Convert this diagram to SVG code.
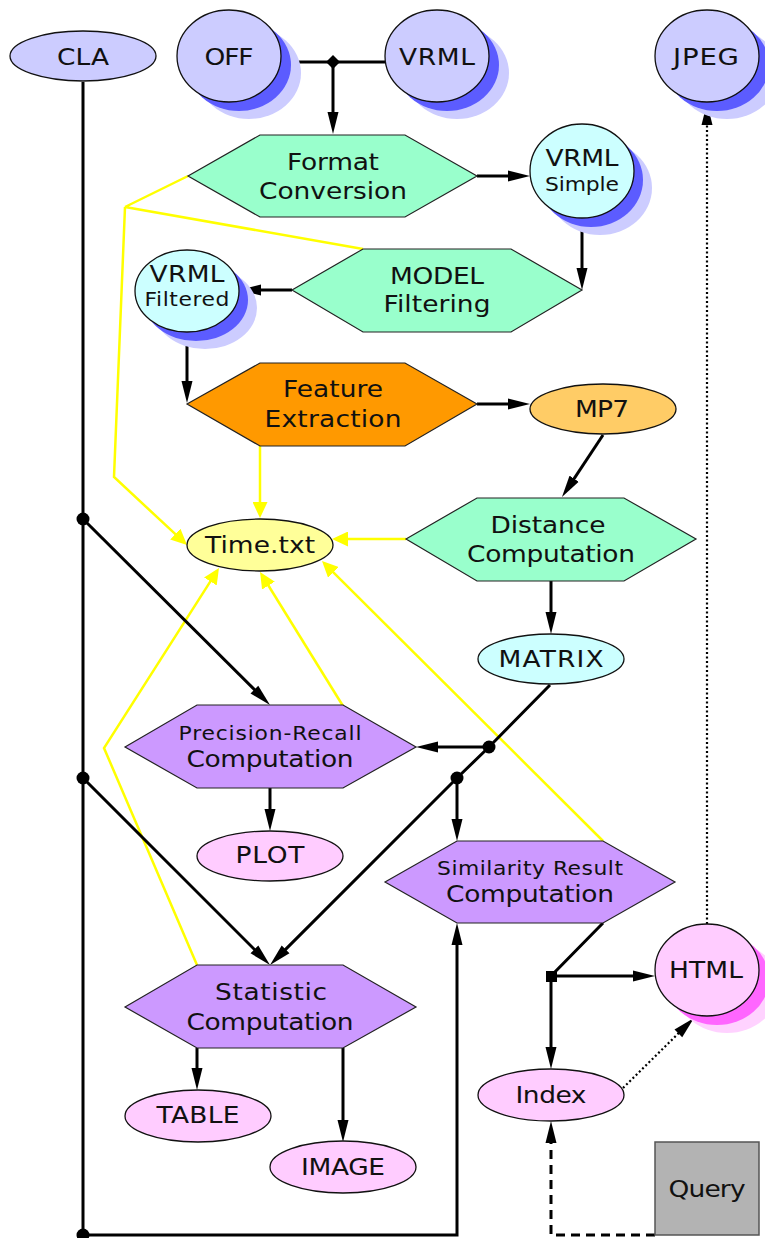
<svg xmlns="http://www.w3.org/2000/svg" width="765" height="1238" viewBox="0 0 765 1238">
<style>
text{font-family:"DejaVu Sans","Liberation Sans",sans-serif;fill:#111;text-anchor:middle}
.t{font-size:23px}
.s{font-size:19px}
.nd{stroke:#111;stroke-width:1.3}
.hex{stroke:#222;stroke-width:1.2}
.e{fill:none;stroke:#000;stroke-width:3}
.y{fill:none;stroke:#ffff00;stroke-width:2.5}
.dot{fill:none;stroke:#000;stroke-width:2.2;stroke-dasharray:2 2.5}
.dash{fill:none;stroke:#000;stroke-width:3;stroke-dasharray:9 6}
.bs1{fill:#ccccff}.bs2{fill:#5c5cff}
.ps1{fill:#ffd2ff}.ps2{fill:#ff66ff}
.green{fill:#99ffcc}.purple{fill:#cc99ff}
</style>
<defs>
<marker id="ab" markerUnits="userSpaceOnUse" markerWidth="22" markerHeight="12" refX="12" refY="6" orient="auto"><path d="M0,0.5 L22,6 L0,11.5 z" fill="#000"/></marker>
<marker id="ay" markerUnits="userSpaceOnUse" markerWidth="16" markerHeight="15" refX="6" refY="7.5" orient="auto"><path d="M0,0 L16,7.5 L0,15 z" fill="#ffff00"/></marker>
</defs>
<rect width="765" height="1238" fill="#fff"/>
<g id="connectors">
<path class="y" d="M188,176 L125,207 M363,249 L125,207"/>
<path class="y" d="M125,207 L114,477 L179.7,538.2" marker-end="url(#ay)"/>
<path class="y" d="M260,446 L260,508" marker-end="url(#ay)"/>
<path class="y" d="M406,539 L342,539" marker-end="url(#ay)"/>
<path class="y" d="M343,706 L265.3,580.5" marker-end="url(#ay)"/>
<path class="y" d="M197,965 L104,748 L213.6,576.4" marker-end="url(#ay)"/>
<path class="y" d="M603,841 L329.1,568.1" marker-end="url(#ay)"/>
<path class="e" d="M281,62 L385,62"/>
<path class="e" d="M333,62 L333,124" marker-end="url(#ab)"/>
<path class="e" d="M477,176 L520,176" marker-end="url(#ab)"/>
<path class="e" d="M582,218 L582,280" marker-end="url(#ab)"/>
<path class="e" d="M292,290 L249,290" marker-end="url(#ab)"/>
<path class="e" d="M187,332 L187,393" marker-end="url(#ab)"/>
<path class="e" d="M477,404 L520,404" marker-end="url(#ab)"/>
<path class="e" d="M603,435 L567.5,488.7" marker-end="url(#ab)"/>
<path class="e" d="M551,581 L551,624" marker-end="url(#ab)"/>
<path class="e" d="M83,82 L83,1235 L457,1235 L457,933" marker-end="url(#ab)"/>
<path class="e" d="M83,519 L262.9,698" marker-end="url(#ab)"/>
<path class="e" d="M83,778 L262.9,957.9" marker-end="url(#ab)"/>
<path class="e" d="M550,685 L489,747 L457,778 L277.1,957.9" marker-end="url(#ab)"/>
<path class="e" d="M489,747 L426,747" marker-end="url(#ab)"/>
<path class="e" d="M457,778 L457,831" marker-end="url(#ab)"/>
<path class="e" d="M270,788 L270,821" marker-end="url(#ab)"/>
<path class="e" d="M197,1048 L197,1080" marker-end="url(#ab)"/>
<path class="e" d="M343,1048 L343,1132" marker-end="url(#ab)"/>
<path class="e" d="M603,923 L551,976 L645,976" marker-end="url(#ab)"/>
<path class="e" d="M551,976 L551,1059" marker-end="url(#ab)"/>
<path class="dot" d="M707,924 L707,113" marker-end="url(#ab)"/>
<path class="dot" d="M623,1088 L686.9,1025" marker-end="url(#ab)"/>
<path class="dash" d="M655,1235 L551,1235 L551,1131" marker-end="url(#ab)"/>
<path d="M333,55 L340,62 L333,69 L326,62 z" fill="#000"/>
<circle cx="83" cy="519" r="6.5" fill="#000"/>
<circle cx="83" cy="778" r="6.5" fill="#000"/>
<circle cx="83" cy="1235" r="6.5" fill="#000"/>
<circle cx="489" cy="747" r="6.5" fill="#000"/>
<circle cx="457" cy="778" r="6.5" fill="#000"/>
<rect x="546" y="971" width="11" height="11" fill="#000"/>
</g>
<g id="CLA"><ellipse class="nd" cx="83" cy="56" rx="73" ry="25" fill="#ccccff"/><text class="t" transform="translate(83,65) scale(1.15,1)" textLength="45.2" lengthAdjust="spacing">CLA</text></g>
<g id="OFF"><ellipse class="bs1" cx="249" cy="73" rx="52" ry="46"/><ellipse class="bs2" cx="239" cy="65" rx="52" ry="46"/><ellipse class="nd" cx="229" cy="56" rx="52" ry="46" fill="#ccccff"/><text class="t" transform="translate(229,65) scale(1.15,1)" textLength="42.6" lengthAdjust="spacing">OFF</text></g>
<g id="VRML"><ellipse class="bs1" cx="457" cy="73" rx="52" ry="46"/><ellipse class="bs2" cx="447" cy="65" rx="52" ry="46"/><ellipse class="nd" cx="437" cy="56" rx="52" ry="46" fill="#ccccff"/><text class="t" transform="translate(437,65) scale(1.15,1)" textLength="66.1" lengthAdjust="spacing">VRML</text></g>
<g id="JPEG"><ellipse class="bs1" cx="727" cy="73" rx="52" ry="46"/><ellipse class="bs2" cx="717" cy="65" rx="52" ry="46"/><ellipse class="nd" cx="707" cy="56" rx="52" ry="46" fill="#ccccff"/><text class="t" transform="translate(706,65) scale(1.2,1)" textLength="55" lengthAdjust="spacing">JPEG</text></g>
<g id="FormatConversion"><polygon class="hex green" points="188,176 260,135 405,135 477,176 405,217 260,217"/><text class="t" transform="translate(333,170) scale(1.15,1)" textLength="80" lengthAdjust="spacing">Format</text><text class="t" transform="translate(333,199) scale(1.15,1)" textLength="128.7" lengthAdjust="spacing">Conversion</text></g>
<g id="VRMLSimple"><ellipse class="bs1" cx="600" cy="188" rx="52" ry="47"/><ellipse class="bs2" cx="591" cy="180" rx="52" ry="47"/><ellipse class="nd" cx="582" cy="171" rx="52" ry="47" fill="#ccffff"/><text class="t" transform="translate(582,166) scale(1.15,1)" textLength="63.5" lengthAdjust="spacing">VRML</text><text class="s" transform="translate(582,191) scale(1.15,1)" textLength="64.3" lengthAdjust="spacing">Simple</text></g>
<g id="MODELFiltering"><polygon class="hex green" points="292,290 363,249 511,249 582,290 511,332 363,332"/><text class="t" transform="translate(437,284) scale(1.15,1)" textLength="81.7" lengthAdjust="spacing">MODEL</text><text class="t" transform="translate(437,312) scale(1.15,1)" textLength="93" lengthAdjust="spacing">Filtering</text></g>
<g id="VRMLFiltered"><ellipse class="bs1" cx="205" cy="308" rx="52" ry="41"/><ellipse class="bs2" cx="196" cy="300" rx="52" ry="41"/><ellipse class="nd" cx="187" cy="291" rx="52" ry="41" fill="#ccffff"/><text class="t" transform="translate(187,282) scale(1.15,1)" textLength="65.2" lengthAdjust="spacing">VRML</text><text class="s" transform="translate(187,306) scale(1.15,1)" textLength="73.9" lengthAdjust="spacing">Filtered</text></g>
<g id="FeatureExtraction"><polygon class="hex" fill="#ff9900" points="187,404 260,363 405,363 477,404 405,446 260,446"/><text class="t" transform="translate(333,397) scale(1.15,1)" textLength="87" lengthAdjust="spacing">Feature</text><text class="t" transform="translate(333,427) scale(1.15,1)" textLength="119.1" lengthAdjust="spacing">Extraction</text></g>
<g id="MP7"><ellipse class="nd" cx="603" cy="409" rx="73" ry="25" fill="#ffcc66"/><text class="t" transform="translate(602,417) scale(1.15,1)" textLength="47" lengthAdjust="spacing">MP7</text></g>
<g id="DistanceComputation"><polygon class="hex green" points="406,539 477,498 624,498 696,539 624,581 477,581"/><text class="t" transform="translate(548,533) scale(1.15,1)" textLength="100" lengthAdjust="spacing">Distance</text><text class="t" transform="translate(551,562) scale(1.15,1)" textLength="146.1" lengthAdjust="spacing">Computation</text></g>
<g id="Time"><ellipse class="nd" cx="260" cy="545" rx="73" ry="26" fill="#ffff99"/><text class="t" transform="translate(260,553) scale(1.15,1)" textLength="95.7" lengthAdjust="spacing">Time.txt</text></g>
<g id="MATRIX"><ellipse class="nd" cx="551" cy="659" rx="73" ry="25" fill="#ccffff"/><text class="t" transform="translate(551,667) scale(1.15,1)" textLength="91.3" lengthAdjust="spacing">MATRIX</text></g>
<g id="PrecisionRecall"><polygon class="hex purple" points="125,747 197,705 343,705 416,747 343,788 197,788"/><text class="s" transform="translate(270,740) scale(1.15,1)" textLength="159.1" lengthAdjust="spacing">Precision-Recall</text><text class="t" transform="translate(270,767) scale(1.15,1)" textLength="145.2" lengthAdjust="spacing">Computation</text></g>
<g id="PLOT"><ellipse class="nd" cx="270" cy="856" rx="73" ry="25" fill="#ffccff"/><text class="t" transform="translate(270,863) scale(1.15,1)" textLength="60" lengthAdjust="spacing">PLOT</text></g>
<g id="SimilarityResult"><polygon class="hex purple" points="385,882 457,841 603,841 675,882 603,923 457,923"/><text class="s" transform="translate(530,875) scale(1.15,1)" textLength="161.7" lengthAdjust="spacing">Similarity Result</text><text class="t" transform="translate(530,902) scale(1.15,1)" textLength="146.1" lengthAdjust="spacing">Computation</text></g>
<g id="HTML"><ellipse class="ps1" cx="727" cy="987" rx="52" ry="46"/><ellipse class="ps2" cx="717" cy="979" rx="52" ry="46"/><ellipse class="nd" cx="707" cy="970" rx="52" ry="46" fill="#ffccff"/><text class="t" transform="translate(706,978) scale(1.15,1)" textLength="64.3" lengthAdjust="spacing">HTML</text></g>
<g id="StatisticComputation"><polygon class="hex purple" points="125,1007 197,965 343,965 416,1007 343,1048 197,1048"/><text class="t" transform="translate(271,1000) scale(1.15,1)" textLength="97.4" lengthAdjust="spacing">Statistic</text><text class="t" transform="translate(270,1030) scale(1.15,1)" textLength="145.2" lengthAdjust="spacing">Computation</text></g>
<g id="TABLE"><ellipse class="nd" cx="198" cy="1116" rx="73" ry="26" fill="#ffccff"/><text class="t" transform="translate(198,1123) scale(1.15,1)" textLength="72.2" lengthAdjust="spacing">TABLE</text></g>
<g id="IMAGE"><ellipse class="nd" cx="343" cy="1167" rx="73" ry="26" fill="#ffccff"/><text class="t" transform="translate(343,1175) scale(1.15,1)" textLength="73" lengthAdjust="spacing">IMAGE</text></g>
<g id="Index"><ellipse class="nd" cx="551" cy="1095" rx="73" ry="26" fill="#ffccff"/><text class="t" transform="translate(551,1103) scale(1.15,1)" textLength="61.7" lengthAdjust="spacing">Index</text></g>
<g id="Query"><rect x="655" y="1142" width="104" height="93" fill="#b3b3b3" stroke="#555" stroke-width="1.5"/><text class="t" transform="translate(707,1197) scale(1.15,1)" textLength="67" lengthAdjust="spacing">Query</text></g>
</svg>
